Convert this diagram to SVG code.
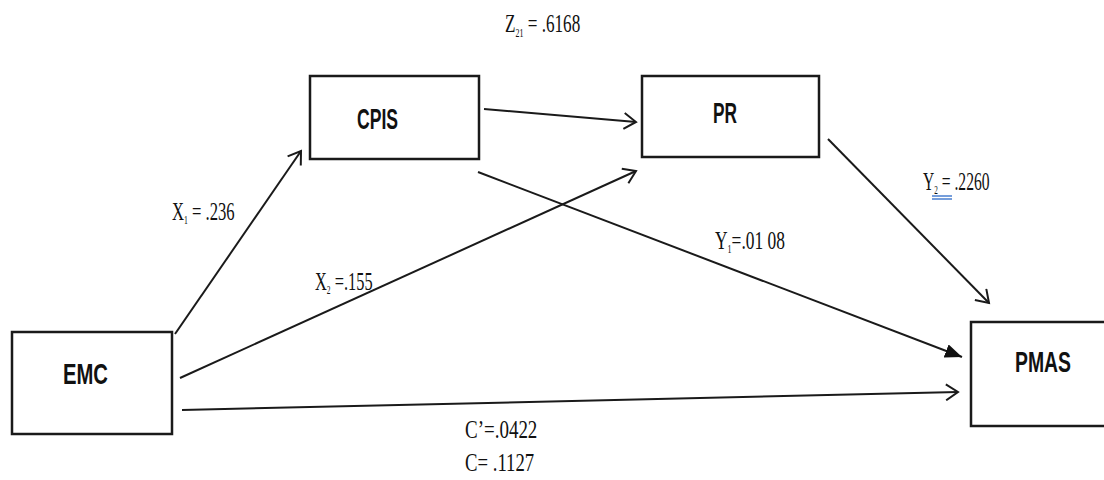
<svg xmlns="http://www.w3.org/2000/svg" width="1104" height="480" viewBox="0 0 1104 480">
  <style>
    .box { fill: #ffffff; stroke: #1a1a1a; stroke-width: 2.5; }
    .name { font-family: "Liberation Sans", Arial, sans-serif; font-weight: bold; font-size: 30px; fill: #111111; }
    .coef { font-family: "Liberation Serif", "Times New Roman", serif; font-size: 26px; fill: #111111; }
    .sub { font-size: 12px; }
    .edge { fill: none; stroke: #1a1a1a; stroke-width: 2; }
  </style>
  <defs>
    <marker id="open" markerUnits="userSpaceOnUse" markerWidth="16" markerHeight="18" refX="13" refY="9" orient="auto">
      <path d="M1,1 L13,9 L1,17" fill="none" stroke="#1a1a1a" stroke-width="2"/>
    </marker>
    <marker id="solid" markerUnits="userSpaceOnUse" markerWidth="18" markerHeight="14" refX="17" refY="7" orient="auto">
      <path d="M0,0 L17,7 L0,14 Z" fill="#111111"/>
    </marker>
  </defs>

  <rect width="1104" height="480" fill="#ffffff"/>

  <!-- paths between the variables -->
  <g id="connectors">
    <line class="edge" x1="175" y1="334" x2="301" y2="151" marker-end="url(#open)"/>
    <line class="edge" x1="180" y1="378" x2="636" y2="171" marker-end="url(#open)"/>
    <line class="edge" x1="182" y1="410" x2="958" y2="392" marker-end="url(#open)"/>
    <line class="edge" x1="484" y1="109" x2="636" y2="122" marker-end="url(#open)"/>
    <line class="edge" x1="478" y1="172" x2="962" y2="357" marker-end="url(#solid)"/>
    <line class="edge" x1="828" y1="139" x2="989" y2="303" marker-end="url(#open)"/>
  </g>

  <g id="emc">
    <rect class="box" x="12" y="332" width="160" height="102"/>
    <text class="name" x="63" y="384" textLength="45" lengthAdjust="spacingAndGlyphs">EMC</text>
  </g>
  <g id="cpis">
    <rect class="box" x="310" y="76" width="169" height="83"/>
    <text class="name" x="357" y="129" textLength="41" lengthAdjust="spacingAndGlyphs">CPIS</text>
  </g>
  <g id="pr">
    <rect class="box" x="642" y="76" width="177" height="81"/>
    <text class="name" x="713" y="123" textLength="24" lengthAdjust="spacingAndGlyphs">PR</text>
  </g>
  <g id="pmas">
    <rect class="box" x="971" y="322" width="140" height="104"/>
    <text class="name" x="1015" y="372" textLength="56" lengthAdjust="spacingAndGlyphs">PMAS</text>
  </g>

  <!-- path coefficients, set in a condensed serif -->
  <g id="labels">
    <text class="coef" transform="translate(505,32) scale(0.66,1)">Z<tspan class="sub" dy="5">21</tspan><tspan dy="-5"> = .6168</tspan></text>
    <text class="coef" transform="translate(172,220) scale(0.64,1)">X<tspan class="sub" dy="4">1</tspan><tspan dy="-4"> = .236</tspan></text>
    <text class="coef" transform="translate(315,290) scale(0.63,1)">X<tspan class="sub" dy="4">2</tspan><tspan dy="-4"> =.155</tspan></text>
    <text class="coef" transform="translate(715,249) scale(0.67,1)">Y<tspan class="sub" dy="4">1</tspan><tspan dy="-4">=.01 08</tspan></text>
    <text class="coef" transform="translate(923,190) scale(0.60,1)">Y<tspan class="sub" dy="4">2</tspan><tspan dy="-4"> = .2260</tspan></text>
    <path d="M932,196 H952 M932,199 H952" fill="none" stroke="#4a7fd0" stroke-width="1.3"/>
    <text class="coef" transform="translate(465,438) scale(0.73,1)">C’=.0422</text>
    <text class="coef" transform="translate(465,471) scale(0.72,1)">C= .1127</text>
  </g>
</svg>
